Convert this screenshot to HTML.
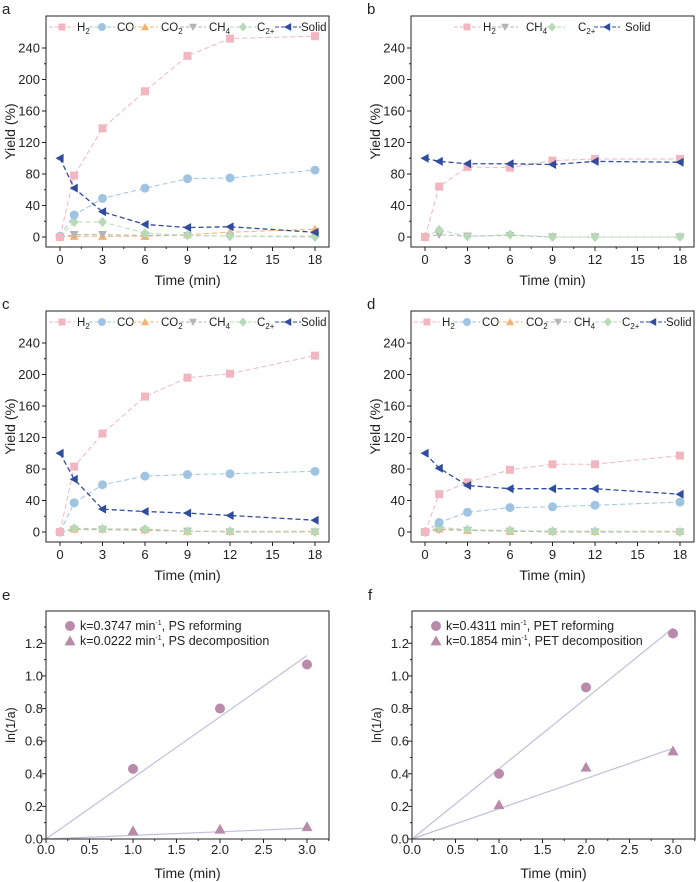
<!DOCTYPE html>
<html><head><meta charset="utf-8"><style>
body{margin:0;background:#fff}
svg{display:block;font-family:"Liberation Sans",Arial,sans-serif}
</style></head><body>
<svg id="s" width="698" height="882" viewBox="0 0 698 882"></svg>
<script>
const times=[0,1,3,6,9,12,18];
const aH2=[0,78,138,185,230,252,255], aCO=[1,28,49,62,74,75,85], aCO2=[0,1,1,1,3,6,10], aCH4=[0,3,3,2,2,1,1], aC2=[0,19,19,5,2,1,0], aSolid=[100,62,32,16,12,13,6];
const bH2=[0,64,89,88,97,99,99], bCH4=[0,3,1,2,0,0,0], bC2=[0,9,1,3,0,0,0], bSolid=[100,96,93,93,92,96,95];
const cH2=[0,83,125,172,196,201,224], cCO=[0,37,60,71,73,74,77], cCO2=[0,4,4,3,1,1,1], cCH4=[0,3,3,2,1,0,0], cC2=[0,5,4,4,1,1,0], cSolid=[100,67,29,26,24,21,15];
const dH2=[0,48,63,79,86,86,97], dCO=[0,12,25,31,32,34,38], dCO2=[0,4,2,1,1,1,1], dCH4=[0,3,2,1,0,0,0], dC2=[0,6,3,2,1,1,0], dSolid=[100,81,59,55,55,55,48];
const yTicks=[0,40,80,120,160,200,240], xTicks=[0,3,6,9,12,15,18];
const kTimes=[1,2,3];
const eRef=[0.43,0.80,1.07], eDec=[0.05,0.06,0.075], eK=[0.3747,0.0222];
const fRef=[0.40,0.93,1.26], fDec=[0.21,0.44,0.54], fK=[0.4311,0.1854];
const kyTicks=[0,0.2,0.4,0.6,0.8,1.0,1.2], kxTicks=[0,0.5,1,1.5,2,2.5,3];

const S=document.getElementById('s'),NS='http://www.w3.org/2000/svg';
function el(t,a,p){const e=document.createElementNS(NS,t);for(const k in a)e.setAttribute(k,a[k]);(p||S).appendChild(e);return e;}
function txt(x,y,s,a,p){const e=el('text',Object.assign({x:x,y:y,'font-size':13,fill:'#222'},a||{}),p);e.innerHTML=s;return e;}
const C={H2:'#f2b6c0',CO:'#9fc4e2',CO2:'#f6b271',CH4:'#b5b5b5',C2:'#b6dab6',Solid:'#2f4c9f'};
function marker(g,type,x,y,col,r){r=r||4.5;let m;
 if(type==='sq')m=el('rect',{x:x-r+0.5,y:y-r+0.5,width:2*r-1,height:2*r-1,fill:col},g);
 else if(type==='ci')m=el('circle',{cx:x,cy:y,r:r,fill:col},g);
 else if(type==='up')m=el('polygon',{points:`${x},${y-r} ${x+r},${y+r*0.8} ${x-r},${y+r*0.8}`,fill:col},g);
 else if(type==='dn')m=el('polygon',{points:`${x},${y+r} ${x+r},${y-r*0.8} ${x-r},${y-r*0.8}`,fill:col},g);
 else if(type==='di')m=el('polygon',{points:`${x},${y-r-0.5} ${x+r},${y} ${x},${y+r+0.5} ${x-r},${y}`,fill:col},g);
 else if(type==='le')m=el('polygon',{points:`${x-r},${y} ${x+r*0.8},${y-r} ${x+r*0.8},${y+r}`,fill:col},g);
 return m;}
function yieldPanel(name,letter,ox,oy,series,legend){
 const g=el('g',{},S);
 const L=ox+46,R=ox+329,T=oy+16,B=oy+247;
 const xs=v=>ox+60+v*(255/18), ys=v=>oy+237-v*0.7875;
 txt(ox+2,oy+14,letter,{'font-size':15},g);
 yTicks.forEach(v=>{el('line',{x1:L,x2:L-4,y1:ys(v),y2:ys(v),stroke:'#222'},g);
  const t=txt(L-6,ys(v)+4.5,v,{'text-anchor':'end'},g);
  if(v<240)el('line',{x1:L,x2:L-2,y1:ys(v+20),y2:ys(v+20),stroke:'#222'},g);});
 xTicks.forEach(v=>{el('line',{x1:xs(v),x2:xs(v),y1:B,y2:B+4,stroke:'#222'},g);
  const t=txt(xs(v),B+17,v,{'text-anchor':'middle'},g);
  if(v<18)el('line',{x1:xs(v+1.5),x2:xs(v+1.5),y1:B,y2:B+2,stroke:'#222'},g);});
 const yt=txt(0,0,'Yield (%)',{'font-size':14,'text-anchor':'middle',transform:`translate(${ox+15},${(T+B)/2}) rotate(-90)`},g);
 const xt=txt((L+R)/2,oy+285,'Time (min)',{'font-size':14,'text-anchor':'middle'},g);
 series.forEach(s=>{const pts=times.map((t,i)=>xs(t)+','+ys(s.v[i])).join(' ');
  const pl=el('polyline',{points:pts,fill:'none',stroke:C[s.k],'stroke-width':s.k==='Solid'?1.3:1,'stroke-dasharray':'5,3'},g);
  
  times.forEach((t,i)=>{const m=marker(g,s.m,xs(t),ys(s.v[i]),C[s.k]);});});
 el('rect',{x:L,y:T,width:R-L,height:B-T,fill:'none',stroke:'#222','stroke-width':1},g);
 legend.forEach(l=>{const y=oy+27;
  el('line',{x1:ox+l.mx-13,x2:ox+l.mx+13,y1:y,y2:y,stroke:C[l.k],'stroke-dasharray':'4,2'},g);
  marker(g,l.m,ox+l.mx,y,C[l.k],4);
  const t=txt(ox+l.tx,y+4,l.s,{'font-size':11.5},g);});
}
const fullLeg=[{k:'H2',m:'sq',mx:62,tx:77,s:'H<tspan font-size="8" dy="3">2</tspan>'},{k:'CO',m:'ci',mx:102,tx:117,s:'CO'},{k:'CO2',m:'up',mx:145,tx:161,s:'CO<tspan font-size="8" dy="3">2</tspan>'},{k:'CH4',m:'dn',mx:193,tx:209,s:'CH<tspan font-size="8" dy="3">4</tspan>'},{k:'C2',m:'di',mx:243,tx:257,s:'C<tspan font-size="8" dy="3">2+</tspan>'},{k:'Solid',m:'le',mx:288,tx:301,s:'Solid'}];
const mk=(k,m,v)=>({k:k,m:m,v:v});
yieldPanel('a','a',0,0,[mk('CO2','up',aCO2),mk('CH4','dn',aCH4),mk('C2','di',aC2),mk('CO','ci',aCO),mk('H2','sq',aH2),mk('Solid','le',aSolid)],fullLeg);
yieldPanel('b','b',365,0,[mk('CH4','dn',bCH4),mk('C2','di',bC2),mk('H2','sq',bH2),mk('Solid','le',bSolid)],
 [{k:'H2',m:'sq',mx:102,tx:118,s:'H<tspan font-size="8" dy="3">2</tspan>'},{k:'CH4',m:'dn',mx:140,tx:161,s:'CH<tspan font-size="8" dy="3">4</tspan>'},{k:'C2',m:'di',mx:187,tx:213,s:'C<tspan font-size="8" dy="3">2+</tspan>'},{k:'Solid',m:'le',mx:242,tx:260,s:'Solid'}]);
yieldPanel('c','c',0,295,[mk('CO2','up',cCO2),mk('CH4','dn',cCH4),mk('C2','di',cC2),mk('CO','ci',cCO),mk('H2','sq',cH2),mk('Solid','le',cSolid)],fullLeg);
yieldPanel('d','d',365,295,[mk('CO2','up',dCO2),mk('CH4','dn',dCH4),mk('C2','di',dC2),mk('CO','ci',dCO),mk('H2','sq',dH2),mk('Solid','le',dSolid)],fullLeg);

function kinPanel(name,letter,ox,oy,ref,dec,k,labels){
 const g=el('g',{},S);
 const L=ox+46,R=ox+329,T=oy+611,B=oy+839;
 const xs=v=>L+v*(261/3), ys=v=>B-v*(195.7/1.2);
 txt(ox+2,oy+600,letter,{'font-size':15},g);
 kyTicks.forEach(v=>{el('line',{x1:L,x2:L-4,y1:ys(v),y2:ys(v),stroke:'#222'},g);
  const t=txt(L-3,ys(v)+4.5,v.toFixed(1),{'text-anchor':'end'},g);
  el('line',{x1:L,x2:L-2,y1:ys(v+0.1),y2:ys(v+0.1),stroke:'#222'},g);});
 kxTicks.forEach(v=>{el('line',{x1:xs(v),x2:xs(v),y1:B,y2:B+4,stroke:'#222'},g);
  const t=txt(xs(v),B+15,v.toFixed(1),{'text-anchor':'middle'},g);
  el('line',{x1:xs(v+0.25),x2:xs(v+0.25),y1:B,y2:B+2,stroke:'#222'},g);});
 txt(0,0,'ln(1/a)',{'font-size':12.5,'text-anchor':'middle',transform:`translate(${ox+15},${(T+B)/2}) rotate(-90)`},g);
 txt((L+R)/2,oy+878,'Time (min)',{'font-size':14,'text-anchor':'middle'},g);
 const col='#b98aaa',lc='#c3bedb';
 k.forEach((kk,i)=>{el('line',{x1:xs(0),y1:ys(0),x2:xs(3),y2:ys(kk*3),stroke:lc,'stroke-width':1.2},g);});
 kTimes.forEach((t,i)=>{marker(g,'ci',xs(t),ys(ref[i]),col,5);
  marker(g,'up',xs(t),ys(dec[i]),col,5.5);});
 el('rect',{x:L,y:T,width:R-L,height:B-T,fill:'none',stroke:'#222'},g);
 marker(g,'ci',L+24,oy+626,col,5);marker(g,'up',L+24,oy+641,col,5.5);
 txt(L+34,oy+630,labels[0],{'font-size':12.5},g);
 txt(L+34,oy+645,labels[1],{'font-size':12.5},g);
}
kinPanel('e','e',0,0,eRef,eDec,eK,['k=0.3747 min<tspan font-size="7" dy="-5">-1</tspan><tspan dy="5">,  PS reforming</tspan>','k=0.0222 min<tspan font-size="7" dy="-5">-1</tspan><tspan dy="5">,  PS decomposition</tspan>']);
kinPanel('f','f',366,0,fRef,fDec,fK,['k=0.4311 min<tspan font-size="7" dy="-5">-1</tspan><tspan dy="5">,  PET reforming</tspan>','k=0.1854 min<tspan font-size="7" dy="-5">-1</tspan><tspan dy="5">,  PET decomposition</tspan>']);
</script>
</body></html>
